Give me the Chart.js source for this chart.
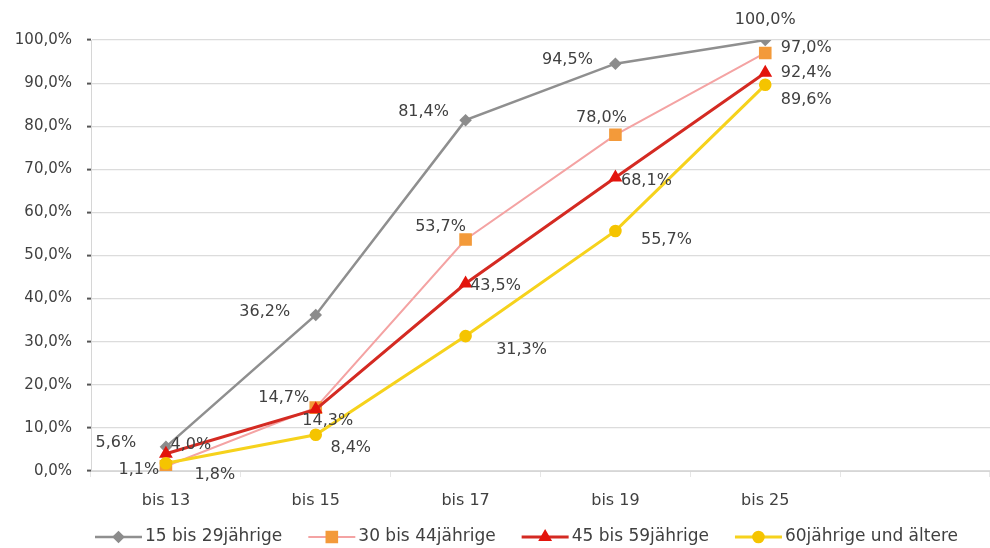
<!DOCTYPE html>
<html>
<head>
<meta charset="utf-8">
<script src="https://cdn.jsdelivr.net/npm/chart.js@4/dist/chart.umd.min.js"></script>
<style>
  body { margin: 0; background: #fff; }
  #wrap { width: 990px; height: 548px; position: relative; }
</style>
</head>
<body>
<div id="wrap"><canvas id="ageChart"></canvas></div>
<script>
// Kategorien (die letzte bleibt leer, wie im Original)
const categories = ['bis 13', 'bis 15', 'bis 17', 'bis 19', 'bis 25', ''];
const seriesNames = ['15 bis 29jährige', '30 bis 44jährige', '45 bis 59jährige', '60jährige und ältere'];

const age15to29 = [5.6, 36.2, 81.4, 94.5, 100.0];
const age30to44 = [1.1, 14.7, 53.7, 78.0, 97.0];
const age45to59 = [4.0, 14.3, 43.5, 68.1, 92.4];
const age60plus = [1.8, 8.4, 31.3, 55.7, 89.6];

const yMin = 0, yMax = 100, yStep = 10;

// Lage der Beschriftungen relativ zum Punkt (Mitte des Texts)
const labelOffsets = [
    [[-50, -4], [-51, -3], [-42, -8], [-48, -4], [0, -20]],
    [[-27, 4], [-32, -10], [-25, -13], [-14, -17], [41, -5]],
    [[25, -9], [12, 11], [30, 2], [31, 3], [41, 0]],
    [[49, 12], [35, 13], [56, 14], [51, 9], [41, 15]]
];

const FONT = '"DejaVu Sans", "Liberation Sans", Arial, sans-serif';
const TEXT = '#404040';

const fmt = v => v.toFixed(1).replace('.', ',') + '%';

const dataLabels = {
    id: 'dataLabels',
    afterDatasetsDraw(chart) {
        const ctx = chart.ctx;
        ctx.save();
        ctx.font = '16px ' + FONT;
        ctx.fillStyle = TEXT;
        ctx.textAlign = 'center';
        ctx.textBaseline = 'middle';
        chart.data.datasets.forEach((ds, i) => {
            const meta = chart.getDatasetMeta(i);
            meta.data.forEach((pt, j) => {
                const off = labelOffsets[i][j];
                ctx.fillText(fmt(ds.data[j]), pt.x + off[0], pt.y + off[1]);
            });
        });
        ctx.restore();
    }
};

// Legende unten: Linie mit Markierung, dann Text
const bottomLegend = {
    id: 'bottomLegend',
    afterDraw(chart) {
        const ctx = chart.ctx;
        const y = chart.height - 11;
        let x = chart.chartArea.left + 4;
        ctx.save();
        ctx.font = '17px ' + FONT;
        ctx.textBaseline = 'middle';
        chart.data.datasets.forEach(ds => {
            ctx.strokeStyle = ds.borderColor;
            ctx.lineWidth = ds.borderWidth;
            ctx.beginPath();
            ctx.moveTo(x, y);
            ctx.lineTo(x + 47, y);
            ctx.stroke();
            ctx.fillStyle = ds.pointBackgroundColor;
            ctx.strokeStyle = ds.pointBorderColor;
            Chart.helpers.drawPoint(ctx, {
                pointStyle: ds.pointStyle, radius: ds.pointRadius, borderWidth: 1, rotation: 0
            }, x + 23.5, y);
            ctx.fillStyle = TEXT;
            ctx.fillText(ds.label, x + 50, y);
            x += 50 + ctx.measureText(ds.label).width + 26;
        });
        ctx.restore();
    }
};

const ctx = document.getElementById('ageChart').getContext('2d');
new Chart(ctx, {
    type: 'line',
    data: {
        labels: categories,
        datasets: [
            {
                label: seriesNames[0], data: age15to29, order: 3,
                borderColor: '#8f8f8f', borderWidth: 2.5,
                pointStyle: 'rectRot', pointRadius: 4.5,
                pointBackgroundColor: '#8c8c8c', pointBorderColor: '#8c8c8c'
            },
            {
                label: seriesNames[1], data: age30to44, order: 2,
                borderColor: '#f4a3a3', borderWidth: 2,
                pointStyle: 'rect', pointRadius: 7.5,
                pointBackgroundColor: '#f39a3a', pointBorderColor: '#f39a3a'
            },
            {
                label: seriesNames[2], data: age45to59, order: 1,
                borderColor: '#d42a22', borderWidth: 3,
                pointStyle: 'triangle', pointRadius: 5,
                pointBackgroundColor: '#e3140c', pointBorderColor: '#e3140c'
            },
            {
                label: seriesNames[3], data: age60plus, order: 0,
                borderColor: '#f6d21c', borderWidth: 3,
                pointStyle: 'circle', pointRadius: 4.8,
                pointBackgroundColor: '#f5c400', pointBorderColor: '#f5c400'
            }
        ]
    },
    options: {
        responsive: true,
        maintainAspectRatio: false,
        animation: false,
        devicePixelRatio: 1,
        layout: { autoPadding: false, padding: { top: 40, right: 0, left: 0, bottom: 0 } },
        plugins: {
            legend: { display: false },
            tooltip: { enabled: false }
        },
        scales: {
            x: {
                offset: true,
                grid: {
                    offset: true, drawOnChartArea: false, drawTicks: true,
                    tickLength: 6, tickColor: '#e6e6e6'
                },
                border: { color: '#d6d6d6', width: 1 },
                ticks: { color: TEXT, font: { family: FONT, size: 16 }, padding: 14, maxRotation: 0 },
                afterFit(scale) { scale.height = 77; }
            },
            y: {
                min: yMin, max: yMax,
                grid: { color: '#dcdcdc', lineWidth: 1.2, tickLength: 4, tickColor: '#555', tickWidth: 2 },
                border: { color: '#d6d6d6', width: 1 },
                ticks: {
                    stepSize: yStep, color: TEXT, padding: 15,
                    font: { family: FONT, size: 15 },
                    callback: v => fmt(v)
                },
                afterFit(scale) { scale.width = 91; }
            }
        }
    },
    plugins: [dataLabels, bottomLegend]
});
</script>
</body>
</html>
